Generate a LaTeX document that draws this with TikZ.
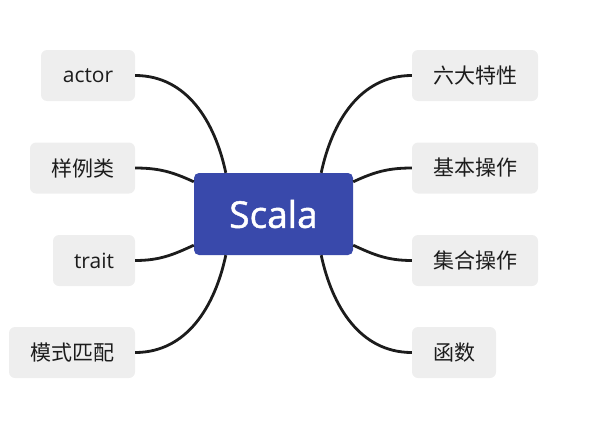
\documentclass[tikz,border=0pt]{standalone}
\usepackage{fontspec}
\setmainfont{Open Sans}
\newfontfamily\cjk{Noto Sans CJK SC}
\newfontfamily\rootfont[RawFeature={embolden=1.2}]{Open Sans}
\usepackage{tikz}
\definecolor{scalablue}{HTML}{3949AB}
\definecolor{leafgray}{HTML}{EEEEEE}
\definecolor{inkdark}{HTML}{1C1C1C}

\begin{document}
\begin{tikzpicture}[x=1pt,y=-1pt,
  root/.style={fill=scalablue,rounded corners=5pt,minimum width=159pt,minimum height=82pt,inner sep=0pt,text=white,font=\rootfont\fontsize{37}{42}\selectfont},
  leaf/.style={fill=leafgray,rounded corners=6pt,minimum height=51pt,inner sep=0pt,text=inkdark,font=\fontsize{21}{25}\selectfont},
  branch/.style={draw=inkdark,line width=2.8pt}]
\useasboundingbox (0,0) rectangle (593,423);
\node[root] (scala) at (273.5,214) {Scala};
% left side
\node[leaf,minimum width=94pt] (actor) at (88,75.5) {actor};
\node[leaf,minimum width=105pt] (caseclass) at (82.5,168) {\cjk 样例类};
\node[leaf,minimum width=82pt] (trait) at (94,260.5) {trait};
\node[leaf,minimum width=126pt] (pattern) at (72,352.5) {\cjk 模式匹配};
% right side
\node[leaf,minimum width=126pt] (features) at (475,75.5) {\cjk 六大特性};
\node[leaf,minimum width=126pt] (basics) at (475,168) {\cjk 基本操作};
\node[leaf,minimum width=126pt] (collections) at (475,260.5) {\cjk 集合操作};
\node[leaf,minimum width=84pt] (functions) at (454,352.5) {\cjk 函数};
% branches
\draw[branch] (actor.east) to[out=0,in=102] ([xshift=32pt]scala.north west);
\draw[branch] (caseclass.east) to[out=0,in=155] ([yshift=-9pt]scala.north west);
\draw[branch] (trait.east) to[out=0,in=-155] ([yshift=10pt]scala.south west);
\draw[branch] (pattern.east) to[out=0,in=-102] ([xshift=32pt]scala.south west);
\draw[branch] (features.west) to[out=180,in=78] ([xshift=-32pt]scala.north east);
\draw[branch] (basics.west) to[out=180,in=25] ([yshift=-9pt]scala.north east);
\draw[branch] (collections.west) to[out=180,in=-25] ([yshift=10pt]scala.south east);
\draw[branch] (functions.west) to[out=180,in=-78] ([xshift=-32pt]scala.south east);
\end{tikzpicture}
\end{document}
